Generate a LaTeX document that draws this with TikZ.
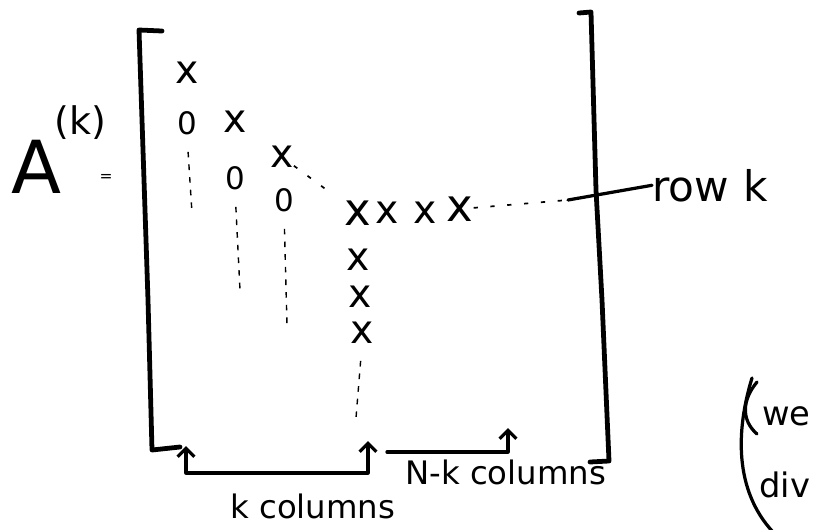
\documentclass[tikz,border=0pt]{standalone}
\usepackage{fontspec}
\setmainfont{DejaVu Sans}
\usetikzlibrary{arrows.meta, positioning}
\definecolor{ink}{RGB}{0,0,0}
\tikzset{
  barb/.tip={Straight Barb[length=6pt,width=12pt]},
  entry/.style={inner sep=0pt, text=ink, font=\fontsize{28}{30}\selectfont},
  bigentry/.style={entry, font=\fontsize{32}{34}\selectfont},
  zero/.style={inner sep=0pt, text=ink, font=\fontsize{22}{24}\selectfont},
  note/.style={inner sep=0pt, text=ink, font=\fontsize{23}{25}\selectfont},
  brack/.style={draw=ink, line width=3.4pt, line join=round, line cap=round},
  pen/.style={draw=ink, line width=2.3pt, line cap=round},
  guide/.style={draw=ink, line width=1pt, dash pattern=on 4pt off 5pt},
  rowdots/.style={draw=ink, line width=1.2pt, dash pattern=on 3pt off 9pt},
  colspan/.style={pen, line join=round, barb-barb},
}
\begin{document}
\begin{tikzpicture}[x=0.025cm, y=-0.025cm]
  \useasboundingbox (0,0) rectangle (816,529);
  \clip (0,0) rectangle (816,529);

  % the name of the matrix
  \node[inner sep=0pt, anchor=base west, font=\fontsize{52}{54}\selectfont] (A) at (11,193) {A};
  \node[inner sep=0pt, anchor=base west, font=\fontsize{27}{29}\selectfont] (Ak) at (54,134) {(k)};
  \node[inner sep=0pt, font=\fontsize{11}{12}\selectfont] (eq) at (106,178) {=};

  % brackets
  \draw[brack] (162,31) -- (139,30) -- (143,150) -- (148,300) -- (152,450) -- (180,447);
  \draw[brack] (579,13) -- (591,12) -- (596,190) -- (602,300) -- (609,461) -- (590,462);

  % entries already reduced
  \node[entry] (a11) at (187,73) {x};
  \node[zero]  (a21) at (187,123) {0};
  \node[entry] (a22) at (235,122) {x};
  \node[zero]  (a32) at (235,178) {0};
  \node[entry] (a33) at (282,157) {x};
  \node[zero]  (a43) at (284,200) {0};

  % row k and column k
  \node[bigentry] (r1) at (358,213) {x};
  \node[entry] (r2) at (387,213) {x};
  \node[entry] (r3) at (425,213) {x};
  \node[bigentry] (r4) at (460,209) {x};
  \node[entry] (c2) at (358,260) {x};
  \node[entry] (c3) at (360,297) {x};
  \node[entry] (c4) at (362,333) {x};

  \node[note, anchor=base west, font=\fontsize{30}{32}\selectfont] (rowk) at (652,201) {row\hspace{10pt}k};

  \coordinate (g1) at (192,213);
  \coordinate (g2) at (240,290);
  \coordinate (g3) at (287,325);
  \coordinate (g4) at (356,418);
  \coordinate (rowend) at (568,200);

  \draw[guide, shorten <=12pt] (a21.south) -- (g1);
  \draw[guide, shorten <=12pt] (a32.south) -- (g2);
  \draw[guide, shorten <=12pt] (a43.south) -- (g3);
  \draw[guide, shorten <=12pt] (c4.south) -- (g4);
  \draw[rowdots, shorten >=10pt] (a33) -- (r1);
  \draw[rowdots] (r4) -- (rowend);
  \draw[pen] (rowend) -- (rowk.west);

  % column counts
  \coordinate (kL) at (186,446);
  \coordinate (kR) at (368,441);
  \coordinate (nL) at (387,452);
  \coordinate (nR) at (508,428);
  \draw[colspan] (kL) -- ++(0,27) -| (kR);
  \draw[colspan, -barb] (nL) -| (nR);
  \node[note, anchor=base west] (kcols) at (230,518) {k columns};
  \node[note, anchor=base west] (nkcols) at (405,484) {N-k columns};

  % side remark at the edge
  \draw[pen] (752,378) .. controls (736,430) and (734,490) .. (773,532);
  \draw[pen] (757,382) .. controls (742,400) and (741,420) .. (757,434);
  \node[note, anchor=base west, font=\fontsize{24}{26}\selectfont] (we) at (762,425) {we};
  \node[note, anchor=base west, font=\fontsize{24}{26}\selectfont] (div) at (759,497) {div};
\end{tikzpicture}
\end{document}
